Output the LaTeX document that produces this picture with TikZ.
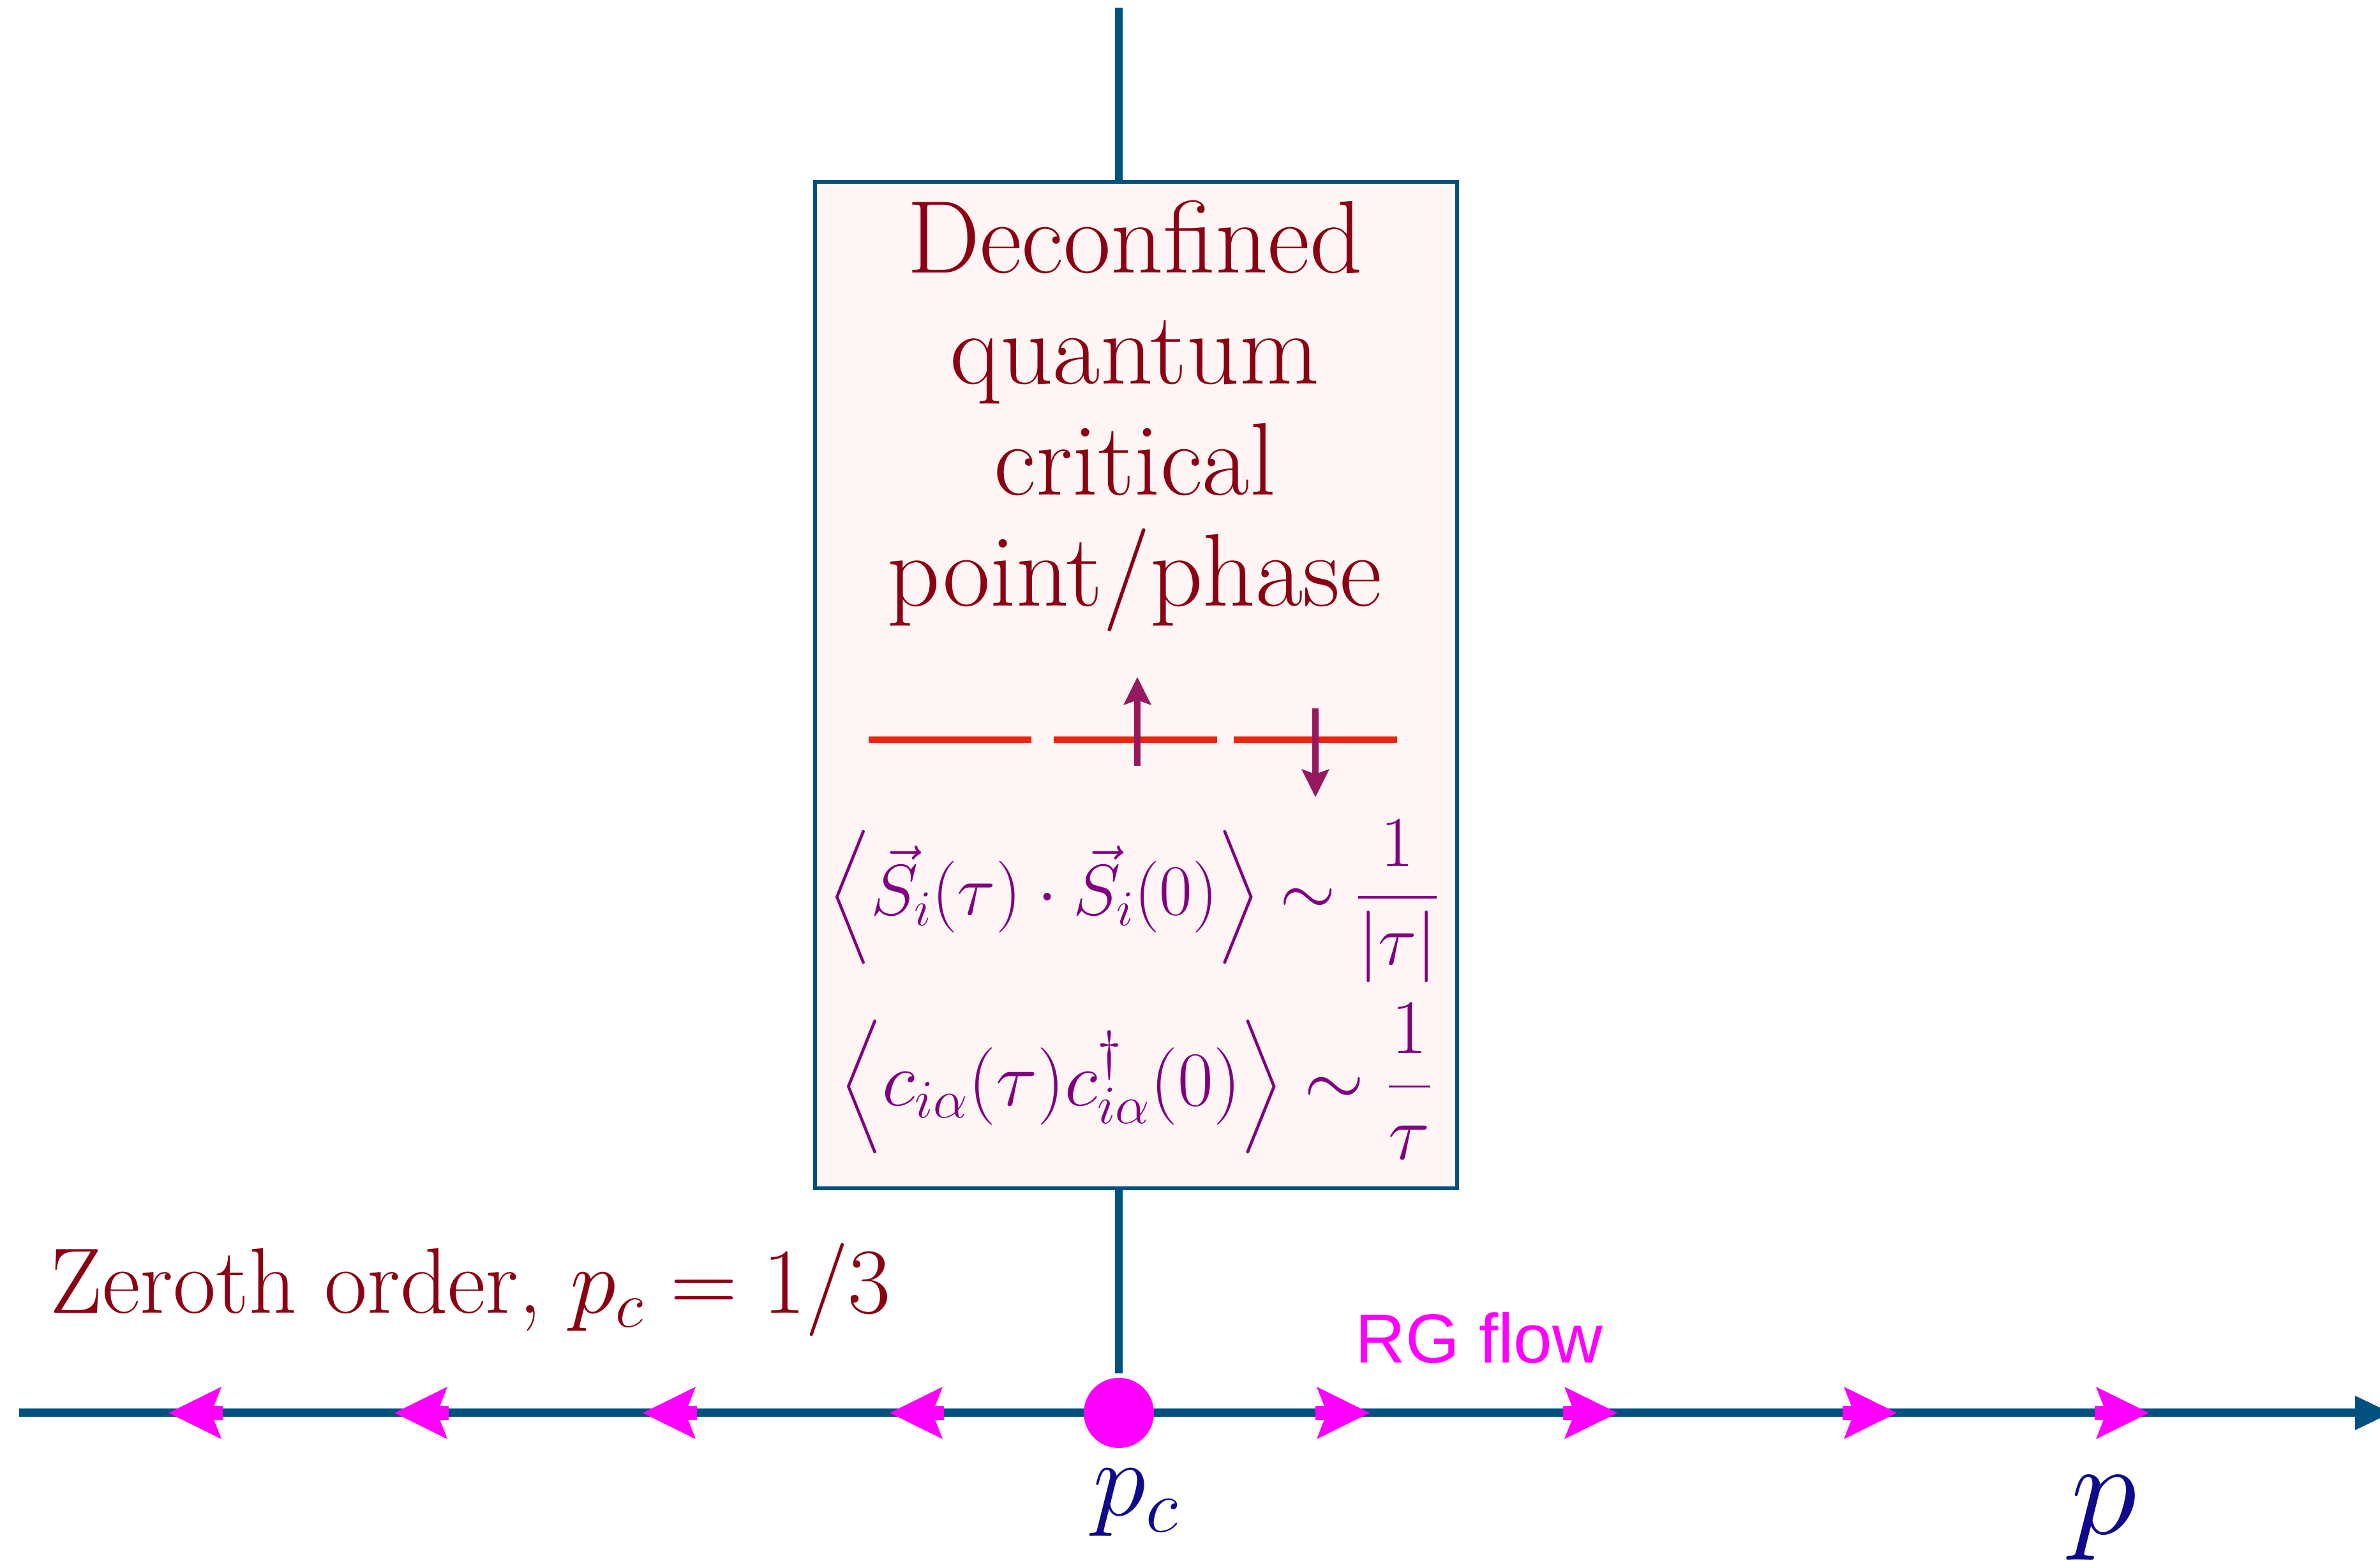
\RequirePackage{fix-cm}
\documentclass[tikz,border=0pt]{standalone}
\usepackage{fontspec}
\usepackage{amsmath}
\newfontfamily\flowfont{Liberation Sans}
\usetikzlibrary{arrows.meta}
\definecolor{axisblue}{RGB}{0,80,128}
\definecolor{boxfill}{RGB}{254,245,244}
\definecolor{titlered}{RGB}{139,0,18}
\definecolor{corrpurple}{RGB}{128,0,128}
\definecolor{spinmag}{RGB}{150,25,95}
\definecolor{levelred}{RGB}{240,35,15}
\definecolor{labelblue}{RGB}{15,10,140}
\definecolor{flowmag}{RGB}{255,0,255}

\begin{document}
\begin{tikzpicture}[line width=3.7pt,
  flow/.style={flowmag,line width=0.22cm,-{Stealth[length=0.83cm,width=0.82cm,inset=0.16cm,line width=0pt]}},
  spin/.style={spinmag,line width=2.8pt,-{Stealth[length=0.44cm,width=0.44cm,inset=0.08cm,line width=0pt]}},
  level/.style={levelred,line width=2.8pt},
  corr/.style={corrpurple,anchor=base,inner sep=0pt,font=\fontsize{32}{38.4}\selectfont}]
  \useasboundingbox (0,0) rectangle (37.29,24.46);
  % p axis and the critical point
  \draw[axisblue,-{Triangle[length=0.56cm,width=0.54cm,line width=0pt]}] (0.30,2.32) coordinate (axL) -- (37.46,2.32) coordinate (axR);
  \node[circle,fill=flowmag,minimum size=1.10cm,inner sep=0pt] (pc) at (17.53,2.32){};
  \draw[axisblue,line width=3.4pt] (17.53,24.34) coordinate (top) -- (pc);
  \foreach \t in {2.64,6.18,10.07,13.94}
    \draw[flow] ({\t+0.85},2.32) -- (\t,2.32);
  \foreach \t in {21.46,25.34,29.72,33.67}
    \draw[flow] ({\t-0.85},2.32) -- (\t,2.32);
  % the box
  \node[draw=axisblue,fill=boxfill,line width=1.7pt,minimum width=10.06cm,minimum height=15.77cm,inner sep=0pt] (dqcp) at (17.80,13.725){};
  \node[titlered,align=center,anchor=north,inner sep=0pt,font=\fontsize{46}{49.5}\selectfont] (title) at (17.78,21.38){Deconfined\\quantum\\critical\\point/phase};
  \draw[level] (13.61,12.87) -- (16.16,12.87);
  \draw[level] (16.51,12.87) -- (19.07,12.87);
  \draw[level] (19.33,12.87) -- (21.89,12.87);
  \draw[spin] (17.82,12.46) -- (17.82,13.85);
  \draw[spin] (20.61,13.36) -- (20.61,11.97);
  \node[corr] (spincorr) at (17.77,10.12){$\displaystyle\Bigl\langle \vec S_i(\tau)\cdot\vec S_i(0)\Bigr\rangle\sim\frac{1}{|\tau|}$};
  \node[corr,font=\fontsize{34.5}{41.4}\selectfont] (fermcorr) at (17.81,7.13){$\displaystyle\Bigl\langle c_{i\alpha}(\tau)c^\dagger_{i\alpha}(0)\Bigr\rangle\sim\frac{1}{\tau}$};
  % labels
  \node[titlered,anchor=base west,inner sep=0pt,font=\fontsize{41.5}{44}\selectfont] (zeroth) at (0.72,3.88){Zeroth order, $p_c=1/3$};
  \node[flowmag,anchor=base west,inner sep=0pt,font=\flowfont\fontsize{31}{31}\selectfont] (rg) at (21.17,3.10){RG flow};
  \node[labelblue,anchor=base,inner sep=0pt,font=\fontsize{48}{50}\selectfont] (pclabel) at (17.80,0.71){$p_c$};
  \node[labelblue,anchor=base,inner sep=0pt,font=\fontsize{60}{62}\selectfont] (plabel) at (32.96,0.42){$p$};
\end{tikzpicture}
\end{document}
